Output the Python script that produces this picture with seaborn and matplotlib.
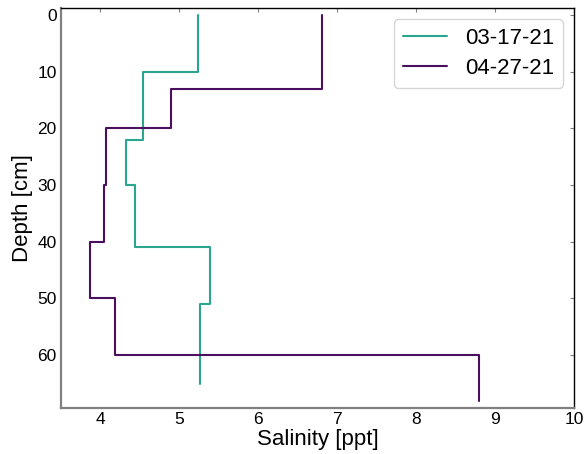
import numpy as np
import pandas as pd
import matplotlib
matplotlib.use("Agg")
import matplotlib.pyplot as plt
import seaborn as sns

# Layer boundaries (cm) and salinity (ppt) per layer
depth_edges_0317 = [0, 10, 22, 30, 41, 51, 65]
salinity_0317 = [5.23, 4.54, 4.32, 4.44, 5.39, 5.26]
depth_edges_0427 = [0, 13, 20, 30, 40, 50, 60, 68]
salinity_0427 = [6.81, 4.90, 4.07, 4.05, 3.87, 4.19, 8.80]
dates = ["03-17-21", "04-27-21"]
colors = ["#2aa58e", "#4a0f5e"]


def profile(edges, vals, label):
    rows = []
    for i, v in enumerate(vals):
        rows.append((v, edges[i], label))
        rows.append((v, edges[i + 1], label))
    return rows

rows = profile(depth_edges_0317, salinity_0317, dates[0]) + \
       profile(depth_edges_0427, salinity_0427, dates[1])
df = pd.DataFrame(rows, columns=["Salinity", "Depth", "Date"])

sns.set_style("white")
plt.rcParams["font.family"] = ["Liberation Sans", "DejaVu Sans"]
plt.rcParams["text.color"] = "black"
plt.rcParams["axes.labelcolor"] = "black"
plt.rcParams["xtick.labelcolor"] = "black"
plt.rcParams["ytick.labelcolor"] = "black"

fig = plt.figure(figsize=(5.84, 4.54), dpi=100)
ax = fig.add_axes([61 / 584, 1 - 408 / 454, 513 / 584, 400 / 454])

sns.lineplot(data=df, x="Salinity", y="Depth", hue="Date", sort=False,
             estimator=None, units="Date", palette=colors, linewidth=1.5,
             ax=ax, legend=True)

ax.set_xlim(3.5, 10)
ax.set_ylim(69.3, -1.2)
ax.set_xticks([4, 5, 6, 7, 8, 9, 10])
ax.set_yticks([0, 10, 20, 30, 40, 50, 60])
ax.set_xlabel("Salinity [ppt]", fontsize=16, labelpad=1, color="black")
ax.set_ylabel("Depth [cm]", fontsize=16, labelpad=3, color="black")
ax.tick_params(axis="both", which="both", direction="in", length=3,
               labelsize=12.5, top=True, right=True, color="#808080",
               width=0.8, pad=3, labelcolor="black")
for s in ["left", "bottom"]:
    ax.spines[s].set_color("#808080")
    ax.spines[s].set_linewidth(1.6)
for s in ["top", "right"]:
    ax.spines[s].set_color("black")
    ax.spines[s].set_linewidth(1.0)

leg = ax.legend(title=None, fontsize=16, loc="upper right", frameon=True,
                handlelength=2.0, borderpad=0.4, labelspacing=0.4,
                handletextpad=0.8)
for t in leg.get_texts():
    t.set_color("black")

fig.savefig("out.png", dpi=100)
